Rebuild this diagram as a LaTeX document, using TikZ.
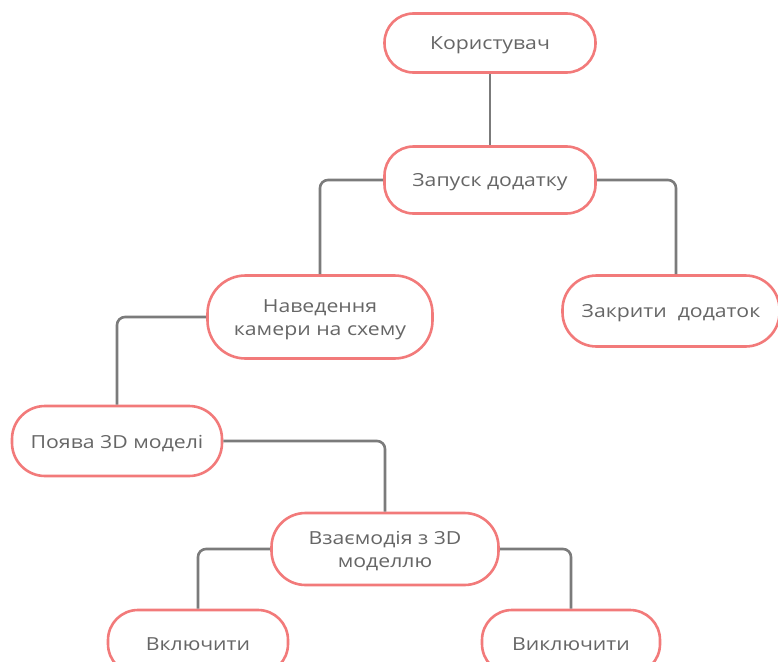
\documentclass[tikz,border=0pt]{standalone}
\usepackage{fontspec}
\usepackage{graphicx}
\setmainfont{Open Sans}
\newcommand{\sx}[1]{\raisebox{-2.5pt}[\height][\depth]{\scalebox{1.18}[1]{#1}}}
\begin{document}
\begin{tikzpicture}[x=1pt,y=-1pt,
  box/.style={draw=boxred, line width=2.6pt, fill=white, rounded corners=29pt,
    align=center, font=\fontsize{18}{23}\selectfont, text=txtgray, inner sep=0pt},
  conn/.style={draw=linegray, line width=2.6pt, rounded corners=8pt}]
\definecolor{boxred}{HTML}{F27A7A}
\definecolor{linegray}{HTML}{7B7B7B}
\definecolor{txtgray}{HTML}{666666}
\useasboundingbox (0,0) rectangle (778,661);
\node[box, minimum width=211pt, minimum height=59pt] (user) at (490,43) {\sx{Користувач}};
\node[box, minimum width=211pt, minimum height=67pt] (start) at (490,180) {\sx{Запуск додатку}};
\node[box, minimum width=225pt, minimum height=83pt, rounded corners=38pt] (cam) at (320,317) {\sx{Наведення}\\\sx{камери на схему}};
\node[box, minimum width=217pt, minimum height=71pt, rounded corners=34pt] (close) at (671,311) {\sx{Закрити\ \ додаток}};
\node[box, minimum width=210pt, minimum height=70pt, rounded corners=33pt] (model) at (117,441) {\sx{Поява 3D моделі}};
\node[box, minimum width=227pt, minimum height=72pt, rounded corners=34pt] (inter) at (385,549) {\sx{Взаємодія з 3D}\\\sx{моделлю}};
\node[box, minimum width=180pt, minimum height=64pt, rounded corners=30pt] (on) at (198,642) {\sx{Включити}};
\node[box, minimum width=178pt, minimum height=64pt, rounded corners=30pt] (off) at (571,642) {\sx{Виключити}};
\draw[conn] (user.south) -- (start.north);
\draw[conn] (start.west) -| (cam.north);
\draw[conn] (start.east) -| ([xshift=5pt]close.north);
\draw[conn] (cam.west) -| (model.north);
\draw[conn] (model.east) -| (inter.north);
\draw[conn] (inter.west) -| (on.north);
\draw[conn] (inter.east) -| (off.north);
\end{tikzpicture}
\end{document}
